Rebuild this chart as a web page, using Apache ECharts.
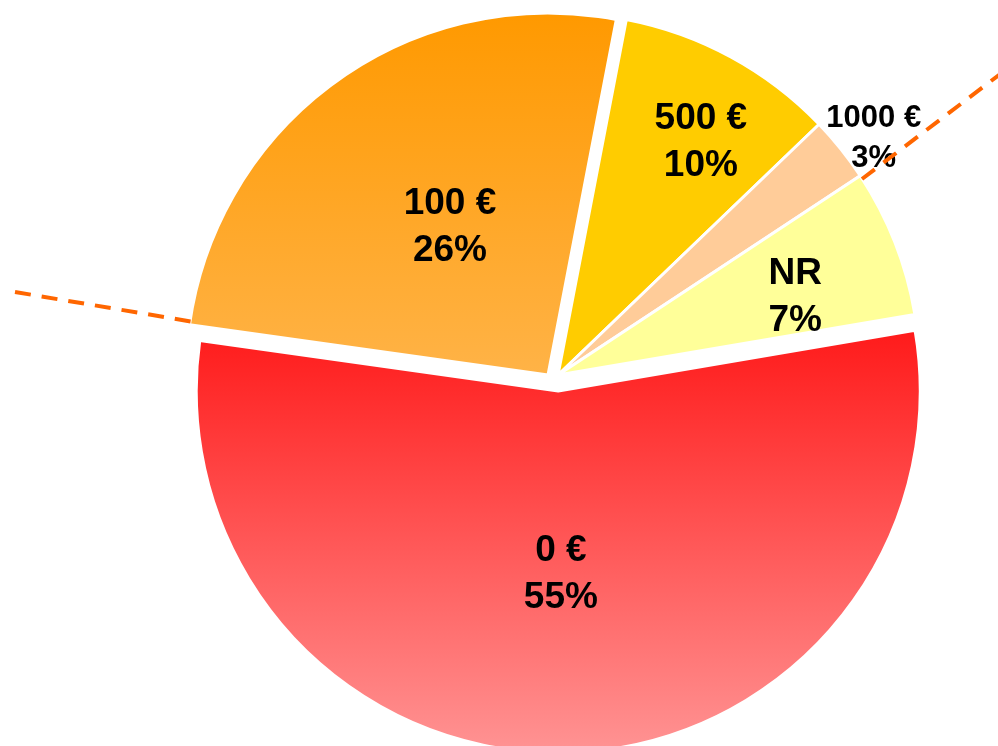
<!doctype html>
<html>
	<head>
		<meta charset="UTF-8">
		<title></title>
		<style>
			html, body {
				margin: 0;
				padding: 0;
				background: #fff;
			}
			#pie {
				width: 998px;
				height: 746px;
			}
		</style>
	</head>
	<body>
		<div id="pie"></div>
		<script src="https://cdn.jsdelivr.net/npm/echarts@6/dist/echarts.min.js"></script>
		<script>
			var names = ['100 €', '500 €', '1000 €', 'NR', '0 €'];
			// shares (labels show them rounded)
			var shares = [25.8, 9.8, 2.9, 6.6, 54.9];

			var colors = [
				['#FF9900', '#FFB347'],
				['#FFCC00', '#FFCC00'],
				['#FFCC99', '#FFCC99'],
				['#FFFF99', '#FFFF99'],
				['#FF1A1A', '#FF9494']
			];
			// label nudges from the default inside position
			var labelShift = [[9, 2], [55, -71], [172, -122], [66, -10], [0, -1]];

			// the 100 € slice sits in its own series, nudged left, so the 0 € slice can drop alone
			function buildData(show) {
				var out = [];
				for (var i = 0; i < names.length; i++) {
					var on = show(i);
					out.push({
						name: names[i],
						value: shares[i],
						selected: on && i === 4,
						itemStyle: on ? {
							color: new echarts.graphic.LinearGradient(0, 0, 0, 1, [
								{ offset: 0, color: colors[i][0] },
								{ offset: 1, color: colors[i][1] }
							])
						} : { color: 'rgba(0,0,0,0)', borderWidth: 0 },
						label: !on ? { show: false } :
							(names[i] === '1000 €' ? { fontSize: 31, lineHeight: 40 } : {})
					});
				}
				return out;
			}

			function pieSeries(data, center, z) {
				return {
					type: 'pie',
					z: z,
					center: center,
					radius: 362,
					startAngle: 172,
					clockwise: true,
					selectedMode: 'multiple',
					selectedOffset: 16,
					avoidLabelOverlap: false,
					itemStyle: { borderColor: '#fff', borderWidth: 3 },
					emphasis: { disabled: true },
					label: {
						show: true,
						position: 'inside',
						formatter: function (p) {
							return p.name + '\n' + Math.round(p.value) + '%';
						},
						color: '#000',
						fontFamily: 'Liberation Sans, Arial, sans-serif',
						fontWeight: 'bold',
						fontSize: 37,
						lineHeight: 47
					},
					labelLine: { show: false },
					labelLayout: function (params) {
						var s = labelShift[params.dataIndex];
						return { dx: s[0], dy: s[1] };
					},
					data: data
				};
			}

			var chart = echarts.init(document.getElementById('pie'));
			chart.setOption({
				animation: false,
				graphic: [{
					type: 'line',
					z: 10,
					shape: { x1: 15, y1: 292, x2: 194, y2: 322 },
					style: { stroke: '#FF6600', lineWidth: 4, lineDash: [16, 11] }
				}, {
					type: 'line',
					z: 10,
					shape: { x1: 862, y1: 179, x2: 1012, y2: 65 },
					style: { stroke: '#FF6600', lineWidth: 4, lineDash: [16, 11] }
				}],
				series: [
					pieSeries(buildData(function (i) { return i !== 0; }), [558, 375], 2),
					pieSeries(buildData(function (i) { return i === 0; }), [548, 375], 3)
				]
			});
		</script>
	</body>
</html>
